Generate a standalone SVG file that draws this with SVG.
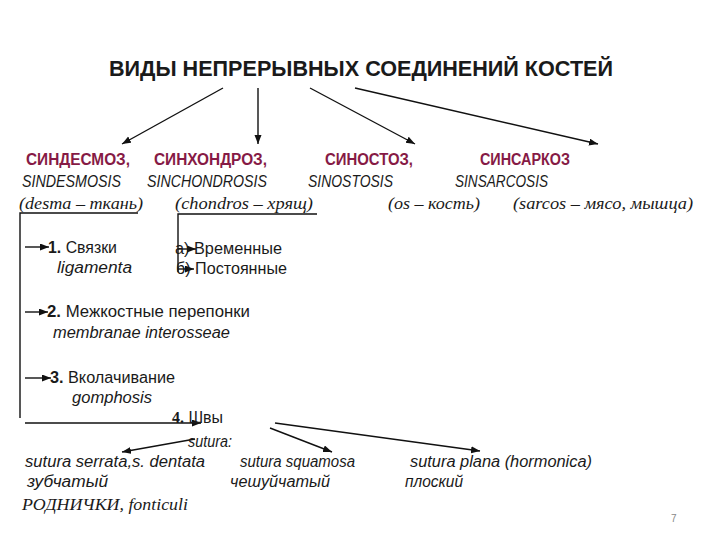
<svg xmlns="http://www.w3.org/2000/svg" width="720" height="540" viewBox="0 0 720 540">
<style>
.t{font-family:"Liberation Sans",Arial,sans-serif;fill:#1a1a1a}
.h{font-family:"Liberation Sans",Arial,sans-serif;font-weight:bold;fill:#861a45;font-size:16px}
.i{font-family:"Liberation Sans",Arial,sans-serif;font-style:italic;fill:#1a1a1a;font-size:16px}
.s{font-family:"Liberation Serif","Times New Roman",serif;font-style:italic;fill:#1a1a1a;font-size:16px}
.r{font-family:"Liberation Sans",Arial,sans-serif;fill:#1a1a1a;font-size:16px}
.c{stroke:#111;stroke-width:1.4;fill:none}
.a{stroke:#111;stroke-width:1.4;fill:none;marker-end:url(#ah)}
</style>
<defs>
<marker id="ah" markerUnits="userSpaceOnUse" markerWidth="10" markerHeight="8" refX="9" refY="3.5" orient="auto">
<path d="M0,0 L9,3.5 L0,7 z" fill="#111"/>
</marker>
</defs>
<rect width="720" height="540" fill="#fff"/>
<g id="title"><text class="t" x="109" y="76" font-size="22" font-weight="bold" textLength="504" lengthAdjust="spacingAndGlyphs">ВИДЫ НЕПРЕРЫВНЫХ СОЕДИНЕНИЙ КОСТЕЙ</text></g>
<g id="connectors">
<line class="a" x1="223" y1="88" x2="122" y2="144"/>
<line class="a" x1="258" y1="88" x2="258" y2="144"/>
<line class="a" x1="310" y1="88" x2="415" y2="144"/>
<line class="a" x1="355" y1="88" x2="598" y2="144"/>
<polyline class="c" points="138,213 20,213 20,418"/>
<line class="a" x1="25" y1="247" x2="49" y2="247"/>
<line class="a" x1="25" y1="312" x2="48" y2="312"/>
<line class="a" x1="25" y1="378" x2="51" y2="378"/>
<line class="a" x1="25" y1="423" x2="201" y2="423"/>
<polyline class="c" points="317,214 178,214 178,272"/>
<line class="a" x1="178" y1="249" x2="196" y2="249"/>
<line class="a" x1="178" y1="269" x2="194" y2="269"/>
<line class="a" x1="195" y1="439" x2="122" y2="452"/>
<line class="a" x1="270" y1="428" x2="332" y2="452"/>
<line class="a" x1="275" y1="423" x2="480" y2="451"/>
</g>
<g id="sindesmosis">
<text class="h" x="26" y="165" textLength="104" lengthAdjust="spacingAndGlyphs">СИНДЕСМОЗ,</text>
<text class="i" x="22" y="187" textLength="99" lengthAdjust="spacingAndGlyphs">SINDESMOSIS</text>
<text class="s" x="19" y="209" textLength="124" lengthAdjust="spacingAndGlyphs">(desma – ткань)</text>
</g>
<g id="sinchondrosis">
<text class="h" x="154" y="165" textLength="113" lengthAdjust="spacingAndGlyphs">СИНХОНДРОЗ,</text>
<text class="i" x="147" y="187" textLength="120" lengthAdjust="spacingAndGlyphs">SINCHONDROSIS</text>
<text class="s" x="175" y="209" textLength="138" lengthAdjust="spacingAndGlyphs">(chondros – хрящ)</text>
</g>
<g id="sinostosis">
<text class="h" x="325" y="165" textLength="88" lengthAdjust="spacingAndGlyphs">СИНОСТОЗ,</text>
<text class="i" x="308" y="187" textLength="85" lengthAdjust="spacingAndGlyphs">SINOSTOSIS</text>
<text class="s" x="388" y="209" textLength="92" lengthAdjust="spacingAndGlyphs">(os – кость)</text>
</g>
<g id="sinsarcosis">
<text class="h" x="480" y="165" textLength="90" lengthAdjust="spacingAndGlyphs">СИНСАРКОЗ</text>
<text class="i" x="455" y="187" textLength="93" lengthAdjust="spacingAndGlyphs">SINSARCOSIS</text>
<text class="s" x="513" y="209" textLength="180" lengthAdjust="spacingAndGlyphs">(sarcos – мясо, мышца)</text>
</g>
<g id="ligamenta">
<text class="r" x="48" y="253" textLength="69" lengthAdjust="spacingAndGlyphs"><tspan font-weight="bold">1.</tspan> Связки</text>
<text class="i" x="57" y="273" textLength="75" lengthAdjust="spacingAndGlyphs">ligamenta</text>
</g>
<g id="temporary"><text class="r" x="175" y="254" textLength="107" lengthAdjust="spacingAndGlyphs">а) Временные</text></g>
<g id="permanent"><text class="r" x="176" y="274" textLength="111" lengthAdjust="spacingAndGlyphs">б) Постоянные</text></g>
<g id="membranae">
<text class="r" x="47" y="317" textLength="203" lengthAdjust="spacingAndGlyphs"><tspan font-weight="bold">2.</tspan> Межкостные перепонки</text>
<text class="i" x="53" y="338" textLength="177" lengthAdjust="spacingAndGlyphs">membranae interosseae</text>
</g>
<g id="gomphosis">
<text class="r" x="50" y="383" textLength="125" lengthAdjust="spacingAndGlyphs"><tspan font-weight="bold">3.</tspan> Вколачивание</text>
<text class="i" x="72" y="403" textLength="80" lengthAdjust="spacingAndGlyphs">gomphosis</text>
</g>
<g id="sutura">
<text class="r" x="172" y="423" textLength="51" lengthAdjust="spacingAndGlyphs"><tspan font-family="Liberation Serif,serif" font-weight="bold">4.</tspan> Швы</text>
<text class="i" x="188" y="447" textLength="44" lengthAdjust="spacingAndGlyphs">sutura:</text>
</g>
<g id="serrata">
<text class="i" x="25" y="467" textLength="180" lengthAdjust="spacingAndGlyphs">sutura serrata,s. dentata</text>
<text class="i" x="27" y="487" textLength="81" lengthAdjust="spacingAndGlyphs">зубчатый</text>
<text class="s" x="22" y="510" font-size="17" textLength="166" lengthAdjust="spacingAndGlyphs">РОДНИЧКИ, fonticuli</text>
</g>
<g id="squamosa">
<text class="i" x="240" y="467" textLength="115" lengthAdjust="spacingAndGlyphs">sutura squamosa</text>
<text class="i" x="230" y="487" textLength="100" lengthAdjust="spacingAndGlyphs">чешуйчатый</text>
</g>
<g id="plana">
<text class="i" x="410" y="467" textLength="182" lengthAdjust="spacingAndGlyphs">sutura plana (hormonica)</text>
<text class="i" x="405" y="487" textLength="58" lengthAdjust="spacingAndGlyphs">плоский</text>
</g>
<g id="page"><text class="t" x="671" y="522" font-size="10" style="fill:#888">7</text></g>
</svg>
